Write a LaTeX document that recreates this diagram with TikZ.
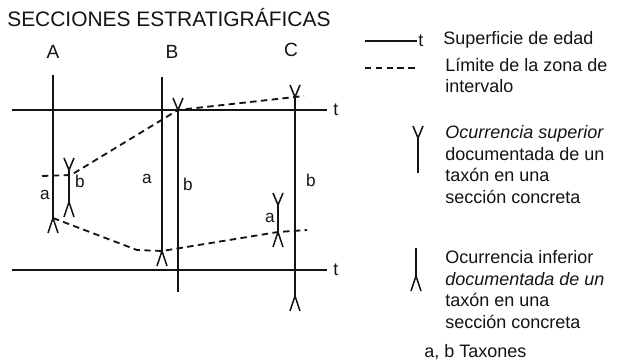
\documentclass[tikz,border=0pt]{standalone}
\usepackage{fontspec}
\setmainfont{Liberation Sans}
\usetikzlibrary{positioning}
\definecolor{Ink}{HTML}{141414}
\definecolor{Paper}{HTML}{FFFFFF}

\tikzset{
  seccion/.style={Ink,line width=1.3pt},
  superficie/.style={Ink,line width=1.3pt},
  limite/.style={Ink,line width=1.3pt,dash pattern=on 1.6mm off 1.1mm},
  marca/.style={Ink,line width=1.1pt,line join=miter},
  techo/.pic={\draw[marca] (-5,-12) -- (0,0) -- (5,-12);},
  base/.pic={\draw[marca] (-5,15) -- (0,0) -- (5,15);},
  rotulo/.style={Ink,inner sep=0pt,font=\fontsize{12.8}{15.3}\selectfont},
  taxon/.style={Ink,inner sep=0pt,font=\fontsize{12.2}{14}\selectfont},
}

\begin{document}
\begin{tikzpicture}[x=0.25mm,y=-0.25mm]
  \fill[Paper] (0,0) rectangle (628,362);
  \useasboundingbox (0,0) rectangle (628,362);

  \node[rotulo,anchor=west,font=\fontsize{14.9}{17}\selectfont] (tit) at (7,18) {SECCIONES ESTRATIGR\'AFICAS};
  \foreach \n/\x/\y in {A/53/52, B/172/52, C/291/50}
  {
    \node[rotulo,font=\fontsize{13.6}{16}\selectfont] (sec\n) at (\x,\y) {\n};
  }

  % superficies de edad
  \coordinate (t1-ini) at (12,110);
  \coordinate (t1-fin) at (327,110);
  \coordinate (t2-ini) at (12,270);
  \coordinate (t2-fin) at (327,270);
  \draw[superficie] (t1-ini) -- (t1-fin);
  \draw[superficie] (t2-ini) -- (t2-fin);
  \node[rotulo,anchor=west] (t1) at (333,110) {t};
  \node[rotulo,anchor=west] (t2) at (333,270) {t};

  % ocurrencias en las secciones
  \coordinate (Aa-top)   at (53,75);
  \coordinate (Aa-base)  at (53,218);
  \coordinate (Ab-techo) at (69,170);
  \coordinate (Ab-base)  at (69,202);
  \coordinate (Ba-top)   at (162,77);
  \coordinate (Ba-base)  at (162,251);
  \coordinate (Bb-techo) at (178,110);
  \coordinate (Bb-bot)   at (178,292);
  \coordinate (Cb-techo) at (295,97);
  \coordinate (Cb-base)  at (295,296);
  \coordinate (Ca-techo) at (278,205);
  \coordinate (Ca-base)  at (278,232);

  \draw[seccion] (Aa-top) -- (Aa-base);
  \draw[seccion] (Ab-techo) -- (Ab-base);
  \draw[seccion] (Ba-top) -- (Ba-base);
  \draw[seccion] (Bb-techo) -- (Bb-bot);
  \draw[seccion] (Cb-techo) -- (Cb-base);
  \draw[seccion] (Ca-techo) -- (Ca-base);
  \foreach \p in {Ab-techo, Bb-techo, Cb-techo, Ca-techo}
    \pic at (\p) {techo};
  \foreach \p in {Aa-base, Ab-base, Ba-base, Cb-base, Ca-base}
    \pic at (\p) {base};

  \foreach \n/\t/\x/\y in {Aa/a/45/195, Ab/b/80/181, Ba/a/147/179, Bb/b/188/184, Ca/a/270/218, Cb/b/311/180}
  {
    \node[taxon] (lbl\n) at (\x,\y) {\t};
  }

  % limites de la zona de intervalo
  \coordinate (sup-ini) at (42,176);
  \coordinate (sup-A)   at (71,175);
  \coordinate (sup-fin) at (304,96);
  \coordinate (inf-B)   at (137,250);
  \coordinate (inf-fin) at (307,230);
  \draw[limite] (sup-ini) -- (sup-A) -- (Bb-techo) -- (Cb-techo) -- (sup-fin);
  \draw[limite] (Aa-base) -- (inf-B) -- (Ba-base) -- (Ca-base) -- (inf-fin);

  % leyenda
  \coordinate (ley1-ini) at (365,41);
  \coordinate (ley1-fin) at (417,41);
  \coordinate (ley2-ini) at (365,68);
  \coordinate (ley2-fin) at (417,68);
  \draw[superficie] (ley1-ini) -- (ley1-fin);
  \draw[limite] (ley2-ini) -- (ley2-fin);
  \node[rotulo,anchor=west] (leyt) at (418,41) {t};
  \node[rotulo,anchor=west] (ley1) at (443,40) {Superficie de edad};
  \node[rotulo,anchor=north west,align=left] (ley2) at (445,57.5)
    {L\'imite de la zona de\\intervalo};

  \coordinate (leyY)     at (418,138);
  \coordinate (leyY-bot) at (418,173);
  \draw[seccion] (leyY) -- (leyY-bot);
  \pic at (leyY) {techo};
  \node[rotulo,anchor=north west,align=left] (ley3) at (445,125.5)
    {\textit{Ocurrencia superior}\\documentada de un\\tax\'on en una\\secci\'on concreta};

  \coordinate (leyL-top) at (416,248);
  \coordinate (leyL)     at (416,276);
  \draw[seccion] (leyL-top) -- (leyL);
  \pic at (leyL) {base};
  \node[rotulo,anchor=north west,align=left] (ley4) at (445,250.5)
    {Ocurrencia inferior\\\textit{documentada de un}\\tax\'on en una\\secci\'on concreta};

  \node[rotulo,anchor=west] (ley5) at (424,352) {a, b Taxones};
\end{tikzpicture}
\end{document}
